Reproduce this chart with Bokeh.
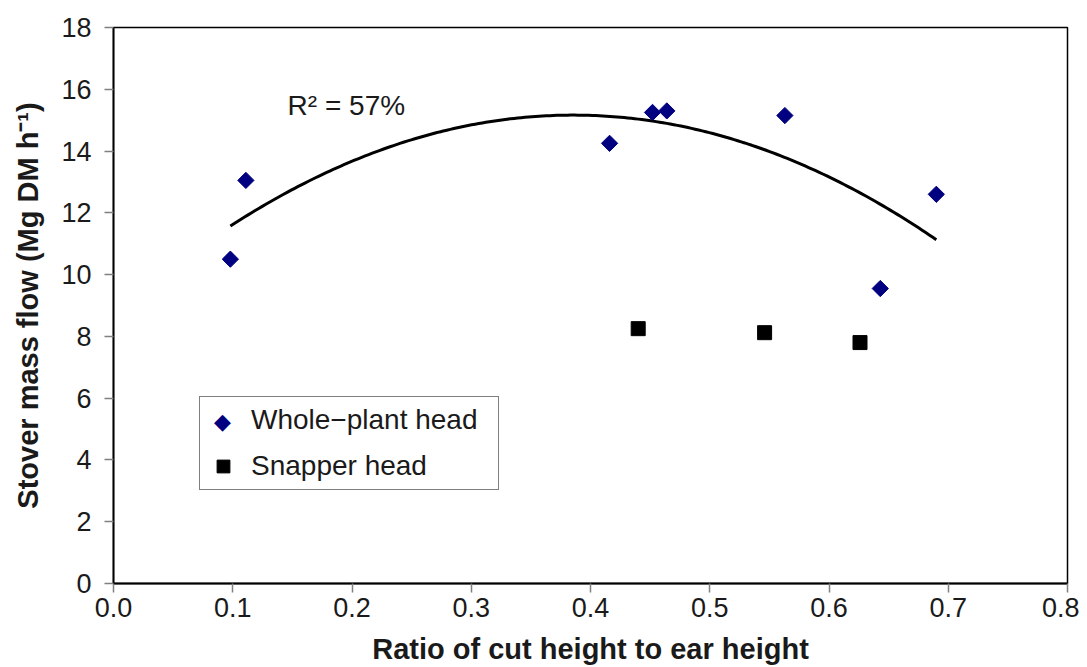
import numpy as np
from bokeh.plotting import figure
from bokeh.models import Range1d, Legend, LegendItem, Label, FixedTicker
from bokeh.embed import file_html
from bokeh.resources import INLINE

# Whole-plant head data
whole_x = [0.098, 0.111, 0.416, 0.452, 0.464, 0.563, 0.643, 0.690]
whole_y = [10.50, 13.05, 14.25, 15.25, 15.30, 15.15, 9.55, 12.60]
# Snapper head data
snap_x = [0.440, 0.546, 0.626]
snap_y = [8.25, 8.12, 7.80]

x_ticks = [0.0, 0.1, 0.2, 0.3, 0.4, 0.5, 0.6, 0.7, 0.8]
y_ticks = [0, 2, 4, 6, 8, 10, 12, 14, 16, 18]
r2_text = "R\u00b2 = 57%"
x_title = "Ratio of cut height to ear height"
y_title = "Stover mass flow (Mg DM h\u207b\u00b9)"

FONT = "Liberation Sans"
NAVY = "#000080"

W, H = 1079, 667
BL, BR, BT, BB = 113, 12, 27, 84
X0, X1, Y0, Y1 = 0.0, 0.8, 0.0, 18.0
frame_w, frame_h = W - BL - BR, H - BT - BB

p = figure(width=W, height=H, output_backend="svg", toolbar_location=None,
           x_range=Range1d(X0, X1), y_range=Range1d(Y0, Y1),
           min_border_left=BL, min_border_right=BR, min_border_top=BT,
           min_border_bottom=BB)
p.grid.visible = False
p.outline_line_color = "black"
p.outline_line_width = 1.5
p.background_fill_color = "white"
p.border_fill_color = "white"

for ax in (p.xaxis[0], p.yaxis[0]):
    ax.axis_line_color = "black"
    ax.axis_line_width = 1.8
    ax.major_tick_line_color = "#808080"
    ax.major_tick_line_width = 1.5
    ax.major_tick_in = 0
    ax.major_tick_out = 9
    ax.minor_tick_line_color = None
    ax.major_label_text_font = FONT
    ax.major_label_text_font_size = "27px"
    ax.major_label_text_color = "#1a1a1a"
    ax.axis_label_text_font = FONT
    ax.axis_label_text_font_size = "29px"
    ax.axis_label_text_font_style = "bold"
    ax.axis_label_text_color = "#1a1a1a"

p.xaxis.ticker = FixedTicker(ticks=x_ticks)
p.yaxis.ticker = FixedTicker(ticks=y_ticks)
p.xaxis.major_label_overrides = {t: f"{t:.1f}" for t in x_ticks}
p.xaxis.axis_label = x_title
p.yaxis.axis_label = y_title
p.xaxis.major_label_standoff = 5
p.yaxis.major_label_standoff = 13
p.xaxis.axis_label_standoff = 13
p.yaxis.axis_label_standoff = 14

# Quadratic trend fitted to whole-plant data
coef = np.polyfit(whole_x, whole_y, 2)
cx = np.linspace(min(whole_x), max(whole_x), 200)
cy = np.polyval(coef, cx)
p.line(cx, cy, line_color="black", line_width=3)

r_whole = p.scatter(whole_x, whole_y, marker="square", angle=np.pi / 4, size=11.5,
                    fill_color=NAVY, line_color=NAVY)
r_snap = p.scatter(snap_x, snap_y, marker="square", size=14,
                   fill_color="black", line_color="black")
# invisible stand-in so the legend row keeps its slot; the diamond key is drawn as text
r_whole_key = p.scatter(x=[], y=[], marker="square", size=1,
                        fill_alpha=0, line_alpha=0)

p.add_layout(Label(x=0.146, y=14.98, text=r2_text, text_font=FONT,
                   text_font_size="28px", text_color="#1a1a1a"))

LEG_X, LEG_Y, PAD, GW, GH, SP = 86, 93, 7, 32, 32, 14
legend = Legend(items=[LegendItem(label="Whole\u2212plant head", renderers=[r_whole_key]),
                       LegendItem(label="Snapper head", renderers=[r_snap])],
                location=(LEG_X, LEG_Y), orientation="vertical")
legend.border_line_color = "black"
legend.border_line_width = 1.5
legend.background_fill_alpha = 0
legend.label_text_font = FONT
legend.label_text_font_size = "28px"
legend.label_text_color = "#1a1a1a"
legend.padding = PAD
legend.margin = 0
legend.spacing = SP
legend.glyph_width = GW
legend.glyph_height = GH
legend.label_height = 32
legend.label_width = 240
legend.label_standoff = 12
p.add_layout(legend, "center")

# diamond key at the first legend row's glyph slot (pixel offsets -> data units)
key_px_x = LEG_X + PAD + GW / 2
key_px_y = LEG_Y + PAD + GH + SP + GH / 2
key_x = X0 + key_px_x * (X1 - X0) / frame_w
key_y = Y0 + key_px_y * (Y1 - Y0) / frame_h
p.add_layout(Label(x=key_x, y=key_y, text="\u25c6",
                   text_font="DejaVu Sans", text_font_size="22px", text_color=NAVY,
                   text_align="center", text_baseline="middle"))

open("out.html", "w").write(file_html(p, INLINE))
